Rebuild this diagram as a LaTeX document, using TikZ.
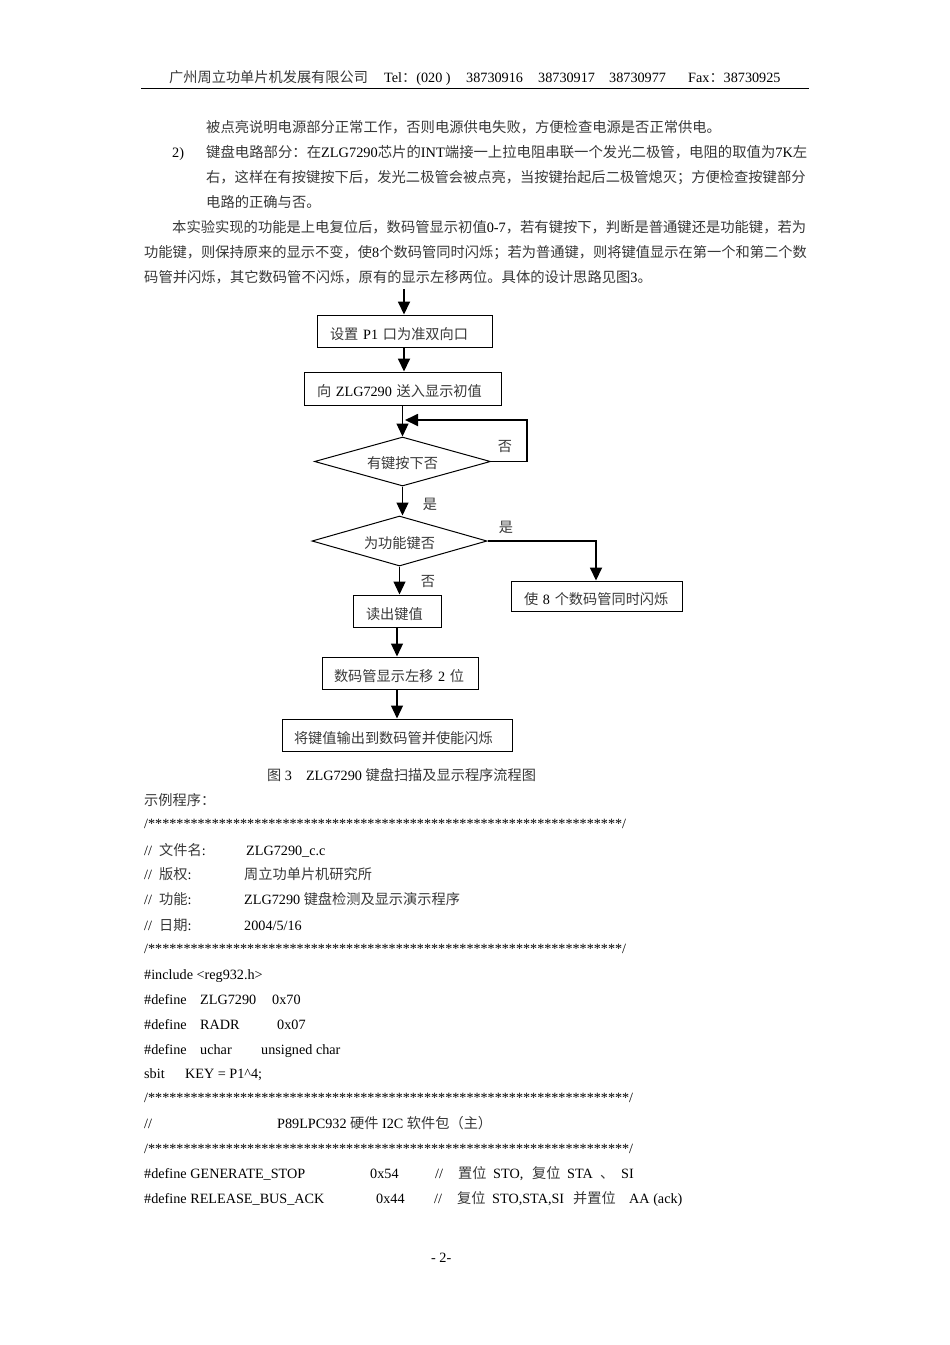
\documentclass[tikz,border=0pt]{standalone}
\usepackage{fontspec}
\setmainfont{Liberation Serif}
\newfontfamily\cjk{Noto Sans CJK SC}
\usetikzlibrary{arrows.meta,positioning,shapes.geometric}
\newcommand{\cn}[1]{{\cjk\color{black!78}#1}}
\tikzset{
  txt/.style={anchor=base west,inner sep=0pt,font=\fontsize{14.2}{17}\selectfont},
  para/.style={txt,font=\fontsize{14.3}{17}\selectfont},
  stars/.style={txt,font=\fontsize{14.15}{17}\selectfont},
  lbl/.style={inner sep=0pt,font=\fontsize{14.2}{17}\selectfont},
  stepbox/.style={draw,rectangle,line width=1pt,inner xsep=13pt,inner ysep=0pt,align=left,minimum height=32pt,text height=19pt,text depth=3pt,font=\fontsize{14.2}{17}\selectfont},
  testbox/.style={draw,diamond,line width=1pt,inner sep=0pt,text height=17pt,text depth=3pt,font=\fontsize{14.2}{17}\selectfont},
  flow/.style={-{Triangle[length=13pt,width=12pt]},line width=1.2pt},
  flowthick/.style={-{Triangle[length=13pt,width=12pt]},line width=1.8pt}
}
\begin{document}
\begin{tikzpicture}[x=1pt,y=-1pt]
\useasboundingbox (0,0) rectangle (950,1345);
% header
\node[txt] (h1) at (169,82) {\cn{广州周立功单片机发展有限公司}};
\node[txt] (h2) at (384,82) {Tel\cn{：}(020 )};
\node[txt] (h3) at (466,82) {38730916};
\node[txt] (h4) at (538,82) {38730917};
\node[txt] (h5) at (609,82) {38730977};
\node[txt] (h6) at (688,82) {Fax\cn{：}38730925};
\coordinate (ruleL) at (141,88.5);
\coordinate (ruleR) at (809,88.5);
\draw[line width=1.2pt] (ruleL) -- (ruleR);
% text above the chart
\node[para] (p1) at (206,132) {\cn{被点亮说明电源部分正常工作，否则电源供电失败，方便检查电源是否正常供电。}};
\node[para] (p2n) at (172,157) {2)};
\node[para,font=\fontsize{14.37}{17}\selectfont] (p2) at (206,157) {\cn{键盘电路部分：在}ZLG7290\cn{芯片的}INT\cn{端接一上拉电阻串联一个发光二极管，电阻的取值为}7K\cn{左}};
\node[para,font=\fontsize{14.27}{17}\selectfont] (p3) at (206,182) {\cn{右，这样在有按键按下后，发光二极管会被点亮，当按键抬起后二极管熄灭；方便检查按键部分}};
\node[para] (p4) at (206,207) {\cn{电路的正确与否。}};
\node[para] (p5) at (172,232) {\cn{本实验实现的功能是上电复位后，数码管显示初值}0-7\cn{，若有键按下，判断是普通键还是功能键，若为}};
\node[para,font=\fontsize{14.25}{17}\selectfont] (p6) at (144,257) {\cn{功能键，则保持原来的显示不变，使}8\cn{个数码管同时闪烁；若为普通键，则将键值显示在第一个和第二个数}};
\node[para] (p7) at (144,282) {\cn{码管并闪烁，其它数码管不闪烁，原有的显示左移两位。具体的设计思路见图}3\cn{。}};
% flow chart
\coordinate (start) at (404,289);
\node[stepbox,text width=149pt] (setp1) at (404.5,331) {\cn{设置} P1 \cn{口为准双向口}};
\node[stepbox,text width=171pt,minimum height=33pt] (initval) at (402.5,388.5) {\cn{向} ZLG7290 \cn{送入显示初值}};
\node[testbox,aspect=3.59,minimum width=176pt,minimum height=49pt] (anykey) at (402.5,461.5) {\cn{有键按下否}};
\node[testbox,aspect=3.5,minimum width=175pt,minimum height=50pt] (funckey) at (399.5,541) {\cn{为功能键否}};
\node[stepbox,text width=62pt] (readval) at (397,611) {\cn{读出键值}};
\node[stepbox,inner xsep=12pt,text width=132pt] (shift) at (400,673) {\cn{数码管显示左移} 2 \cn{位}};
\node[stepbox,inner xsep=12pt,text width=206pt] (output) at (397,735) {\cn{将键值输出到数码管并使能闪烁}};
\node[stepbox,text width=145pt,minimum height=30pt] (flash) at (596.5,596) {\cn{使} 8 \cn{个数码管同时闪烁}};
\coordinate (loopA) at (527,461.5);
\coordinate (loopB) at (527,420);
\coordinate (loopC) at (405,420);
\coordinate (turn) at (596,541);
\draw[flowthick] (start) -- (start |- setp1.north);
\draw[flowthick] (setp1.south -| start) -- (start |- initval.north);
\draw[flow] (initval.south) -- (anykey.north);
\draw[flowthick] (anykey.east) -- (loopA) -- (loopB) -- (loopC);
\draw[flow] (anykey.south) -- (anykey.south |- funckey.north);
\draw[flowthick] (funckey.east) -- (turn) -- (turn |- flash.north);
\draw[flow] (funckey.south) -- (funckey.south |- readval.north);
\draw[flow] (readval.south) -- (readval.south |- shift.north);
\draw[flow] (output.north |- shift.south) -- (output.north);
\node[lbl] (no1) at (505,446) {\cn{否}};
\node[lbl] (yes1) at (430,504) {\cn{是}};
\node[lbl] (yes2) at (506,527) {\cn{是}};
\node[lbl] (no2) at (428,581) {\cn{否}};
% caption and listing
\node[txt] (cap) at (267,780) {\cn{图} 3\hspace{14pt}ZLG7290 \cn{键盘扫描及显示程序流程图}};
\node[txt] (c0) at (144,805) {\cn{示例程序：}};
\node[stars] (s1) at (144,828) {/*******************************************************************/};
\node[txt] (c1) at (144,855) {//\hspace{7.1pt}\cn{文件名}:};
\node[txt] (c1b) at (246,855) {ZLG7290\_c.c};
\node[txt] (c2) at (144,879) {//\hspace{7.1pt}\cn{版权}:};
\node[txt] (c2b) at (244,879) {\cn{周立功单片机研究所}};
\node[txt] (c3) at (144,904) {//\hspace{7.1pt}\cn{功能}:};
\node[txt] (c3b) at (244,904) {ZLG7290 \cn{键盘检测及显示演示程序}};
\node[txt] (c4) at (144,930) {//\hspace{7.1pt}\cn{日期}:};
\node[txt] (c4b) at (244,930) {2004/5/16};
\node[stars] (s2) at (144,953) {/*******************************************************************/};
\node[txt] (d0) at (144,979) {\#include <reg932.h>};
\node[txt] (d1) at (144,1004) {\#define};
\node[txt] (d1b) at (200,1004) {ZLG7290};
\node[txt] (d1c) at (272,1004) {0x70};
\node[txt] (d2) at (144,1029) {\#define};
\node[txt] (d2b) at (200,1029) {RADR};
\node[txt] (d2c) at (277,1029) {0x07};
\node[txt] (d3) at (144,1054) {\#define};
\node[txt] (d3b) at (200,1054) {uchar};
\node[txt] (d3c) at (261,1054) {unsigned char};
\node[txt] (d4) at (144,1078) {sbit};
\node[txt] (d4b) at (185,1078) {KEY = P1\^{}4;};
\node[stars] (s3) at (144,1102) {/********************************************************************/};
\node[txt] (t0) at (144,1128) {//};
\node[txt] (t0b) at (277,1128) {P89LPC932 \cn{硬件} I2C \cn{软件包（主）}};
\node[stars] (s4) at (144,1153) {/********************************************************************/};
\node[txt] (g1) at (144,1178) {\#define GENERATE\_STOP};
\node[txt] (g1b) at (370,1178) {0x54};
\node[txt] (g1c) at (435,1178) {//};
\node[txt] (g1d) at (458,1178) {\cn{置位}};
\node[txt] (g1e) at (493,1178) {STO,};
\node[txt] (g1f) at (532,1178) {\cn{复位}};
\node[txt] (g1g) at (567,1178) {STA};
\node[txt] (g1h) at (600,1178) {\cn{、}};
\node[txt] (g1i) at (621,1178) {SI};
\node[txt] (g2) at (144,1203) {\#define RELEASE\_BUS\_ACK};
\node[txt] (g2b) at (376,1203) {0x44};
\node[txt] (g2c) at (434,1203) {//};
\node[txt] (g2d) at (457,1203) {\cn{复位}};
\node[txt] (g2e) at (492,1203) {STO,STA,SI};
\node[txt] (g2f) at (573,1203) {\cn{并置位}};
\node[txt] (g2g) at (629,1203) {AA (ack)};
\node[txt] (pg) at (431,1262) {- 2-};
\end{tikzpicture}
\end{document}
